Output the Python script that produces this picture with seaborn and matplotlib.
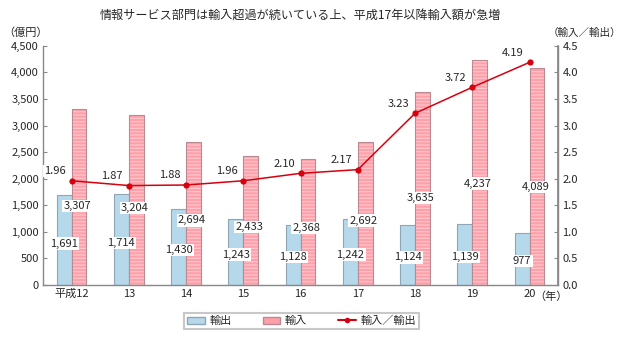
import matplotlib
matplotlib.use("Agg")
import matplotlib.pyplot as plt
import seaborn as sns
import pandas as pd
import numpy as np
from matplotlib.colors import to_rgba
from matplotlib.patches import Patch
from matplotlib.lines import Line2D
from matplotlib.ticker import FuncFormatter, MultipleLocator

years = ["平成12", "13", "14", "15", "16", "17", "18", "19", "20"]
exports = [1691, 1714, 1430, 1243, 1128, 1242, 1124, 1139, 977]
imports = [3307, 3204, 2694, 2433, 2368, 2692, 3635, 4237, 4089]
ratio = [1.96, 1.87, 1.88, 1.96, 2.10, 2.17, 3.23, 3.72, 4.19]
series_names = ["輸出", "輸入"]
ratio_name = "輸入／輸出"
title = "情報サービス部門は輸入超過が続いている上、平成17年以降輸入額が急増"

sns.set_theme(style="white")
plt.rcParams['font.family'] = ['Noto Sans CJK JP', 'DejaVu Sans']
plt.rcParams['hatch.linewidth'] = 0.9

df = pd.DataFrame({
    "year": years * 2,
    "value": exports + imports,
    "kind": [series_names[0]] * len(years) + [series_names[1]] * len(years),
})

blue = "#b5d8ea"
pink = "#ff9fa9"
red = "#d7000f"

fig = plt.figure(figsize=(6.23, 3.42), dpi=100)
ax = fig.add_axes([0.069, 0.167, 0.827, 0.699])
sns.barplot(data=df, x="year", y="value", hue="kind", order=years,
            hue_order=series_names, palette=[blue, pink], width=0.52,
            gap=0, ax=ax, legend=False, saturation=1)

n = len(years)
for i, p in enumerate(ax.patches[:2 * n]):
    if i < n:
        p.set_edgecolor("#8fa6b6")
        p.set_linewidth(0.8)
    else:
        p.set_edgecolor("#b98a92")
        p.set_linewidth(0.8)
        p.set_hatch("-----")
        p._hatch_color = to_rgba("#ffc6cb")

ax.set_ylim(0, 4500)
ax.set_xlim(-0.5, n - 0.5)
ax.yaxis.set_major_locator(MultipleLocator(500))
ax.yaxis.set_major_formatter(FuncFormatter(lambda v, _: f"{int(v):,}"))
ax.set_xlabel("")
ax.set_ylabel("")
ax.set_xticks(np.arange(n))
ax.set_xticklabels(years, fontsize=8)
ax.set_xticks(np.arange(n + 1) - 0.5, minor=True)
ax.tick_params(axis="x", which="major", length=0, pad=3)
ax.tick_params(axis="x", which="minor", length=3, direction="in", color="#888888", width=0.8)
ax.tick_params(axis="y", length=3, direction="in", color="#888888", width=0.8, labelsize=8, pad=3)
for s in ["left", "bottom", "right"]:
    ax.spines[s].set_color("#888888")
    ax.spines[s].set_linewidth(1.0)
ax.spines["top"].set_visible(False)

# value labels
box = dict(boxstyle="square,pad=0.1", fc="white", ec="none")
off = 0.13
for i in range(n):
    ax.text(i - off, exports[i] * 0.46, f"{exports[i]:,}", ha="center", va="center",
            fontsize=8, bbox=box, zorder=5)
    ax.text(i + off - 0.03, imports[i] * 0.45, f"{imports[i]:,}", ha="center", va="center",
            fontsize=8, bbox=box, zorder=5)

ax2 = ax.twinx()
sns.lineplot(x=np.arange(n), y=ratio, ax=ax2, color=red, marker="o",
             markersize=4.5, markeredgewidth=0, linewidth=1.1)
ax2.set_ylim(0, 4.5)
ax2.set_xlim(-0.5, n - 0.5)
ax2.yaxis.set_major_locator(MultipleLocator(0.5))
ax2.yaxis.set_major_formatter(FuncFormatter(lambda v, _: f"{v:.1f}"))
ax2.tick_params(axis="y", length=3, direction="in", color="#888888", width=0.8, labelsize=8, pad=3)
ax2.spines["top"].set_visible(False)
ax2.spines["right"].set_color("#888888")
ax2.spines["left"].set_visible(False)
ax2.spines["bottom"].set_visible(False)
for i in range(n):
    ax2.annotate(f"{ratio[i]:.2f}", (i, ratio[i]), xytext=(-12, 7),
                 textcoords="offset points", ha="center", va="center", fontsize=8,
                 bbox=box, zorder=6)

fig.text(0.482, 0.955, title, ha="center", va="center", fontsize=8.7)
fig.text(0.005, 0.905, "（億円）", ha="left", va="center", fontsize=8)
fig.text(0.997, 0.905, "（輸入／輸出）", ha="right", va="center", fontsize=7.6)
ax.text(n - 1 + 0.38, -0.028, "（年）", transform=ax.get_xaxis_transform(),
        ha="center", va="top", fontsize=8)

handles = [
    Patch(facecolor=blue, edgecolor="#8fa6b6", label=series_names[0]),
    Patch(facecolor=pink, edgecolor="#b98a92", label=series_names[1]),
    Line2D([0], [0], color=red, marker="o", markersize=4, markeredgewidth=0, label=ratio_name),
]
leg = fig.legend(handles=handles, loc="center", bbox_to_anchor=(0.484, 0.061), ncol=3,
                 fontsize=8, frameon=True, fancybox=False, edgecolor="#bbbbbb",
                 columnspacing=2.8, handlelength=1.6, handletextpad=0.4,
                 borderpad=0.25)
leg.get_frame().set_linewidth(1.5)

fig.savefig("out.png", dpi=100)
